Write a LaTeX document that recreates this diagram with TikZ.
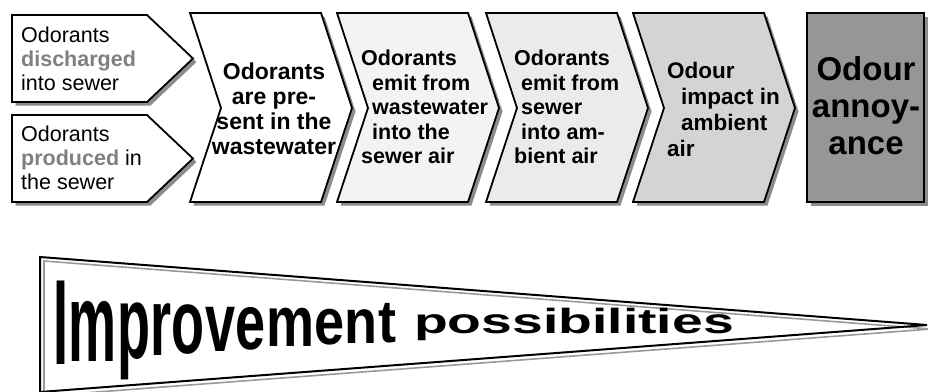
\documentclass[tikz,border=0pt]{standalone}
\usepackage{fontspec}
\setmainfont{Liberation Sans}
\usepackage{graphicx}
\usetikzlibrary{shadows}
\definecolor{odgrey}{RGB}{128,128,128}
\definecolor{chevlight}{RGB}{243,243,243}
\definecolor{chevmid}{RGB}{235,235,235}
\definecolor{chevdark}{RGB}{212,212,212}
\definecolor{annoy}{RGB}{150,150,150}
\tikzset{
    flowbox/.style={
        draw=black,line width=1.8pt,fill=#1,
        drop shadow={shadow xshift=3.5pt,shadow yshift=-3.5pt,
            fill=black!45,opacity=1}
    },
    flowbox/.default=white,
    sidetext/.style={
        anchor=west,inner sep=0pt,align=left,
        font=\fontsize{21.5}{24}\selectfont
    },
    chevtext/.style={
        anchor=west,inner sep=0pt,align=left,
        font=\fontsize{21.5}{24.5}\selectfont\bfseries
    },
    wordart/.style={
        anchor=base west,inner sep=0pt,
        font=\fontsize{54}{54}\selectfont\bfseries
    }
}

\begin{document}
\begin{tikzpicture}[x=1pt,y=-1pt]
\useasboundingbox (0,0) rectangle (928,391);

% sources
\draw[flowbox] (12,15) -- (147,15) -- (193,58.5) -- (147,102) -- (12,102) -- cycle;
\draw[flowbox] (12,115) -- (147,115) -- (193,158.5) -- (147,202) -- (12,202) -- cycle;

% chain of chevrons
\foreach \L/\shade in {190/white,337/chevlight,486/chevmid,633/chevdark}
  \draw[flowbox=\shade] (\L,13) -- ++(131,0) -- ++(31,95) -- ++(-31,94)
    -- ++(-131,0) -- ++(31,-94) -- cycle;
\draw[flowbox=annoy] (807,13) rectangle (924,202);

\node[sidetext] (discharged) at (21,58.5)
{Odorants\\\textcolor{odgrey}{\bfseries discharged}\\into sewer};
\node[sidetext] (produced) at (21,157.5)
{Odorants\\\textcolor{odgrey}{\bfseries produced} in\\the sewer};

\node[chevtext,anchor=center,align=center,
  font=\fontsize{23}{25}\selectfont\bfseries] (present) at (274,109)
{Odorants\\are pre-\\sent in the\\wastewater};
\node[chevtext] (sewerair) at (361,107)
{Odorants\\\hspace*{11pt}emit from\\\hspace*{11pt}wastewater\\\hspace*{11pt}into the\\sewer air};
\node[chevtext] (ambientair) at (514,107)
{Odorants\\\hspace*{7pt}emit from\\\hspace*{7pt}sewer\\\hspace*{7pt}into am-\\bient air};
\node[chevtext,font=\fontsize{22.5}{26}\selectfont\bfseries] (impact) at (667,109)
{Odour\\\hspace*{14pt}impact in\\\hspace*{14pt}ambient\\air};
\node[chevtext,anchor=center,align=center,
  font=\fontsize{33}{37}\selectfont\bfseries] (annoyance) at (866,106)
{Odour\\annoy-\\ance};

% pennant
\draw[line width=1.6pt,black!40] (44,261) -- (931,329) -- (44,396) -- cycle;
\draw[line width=2pt] (40,257) -- (927,325) -- (40,392) -- cycle;

\node[wordart,anchor=base east] (imp0) at (53,365) {};
\foreach \ch/\hh [count=\i, evaluate=\i as \j using int(\i-1),
    evaluate=\hh as \ys using \hh/38.7] in
  {I/87,m/80,p/74,r/69,o/65,v/60,e/56,m/51,e/47,n/45,t/43}
{
  \coordinate (lvl\i) at (0,{321+\hh/2});
  \node[wordart] (imp\i) at (imp\j.base east |- lvl\i) {\scalebox{1}[\ys]{\ch}};
}
\node[wordart,font=\fontsize{35}{35}\selectfont\bfseries] (possib) at (414,333)
{\scalebox{1.58}[1]{possibilities}};

\end{tikzpicture}
\end{document}
